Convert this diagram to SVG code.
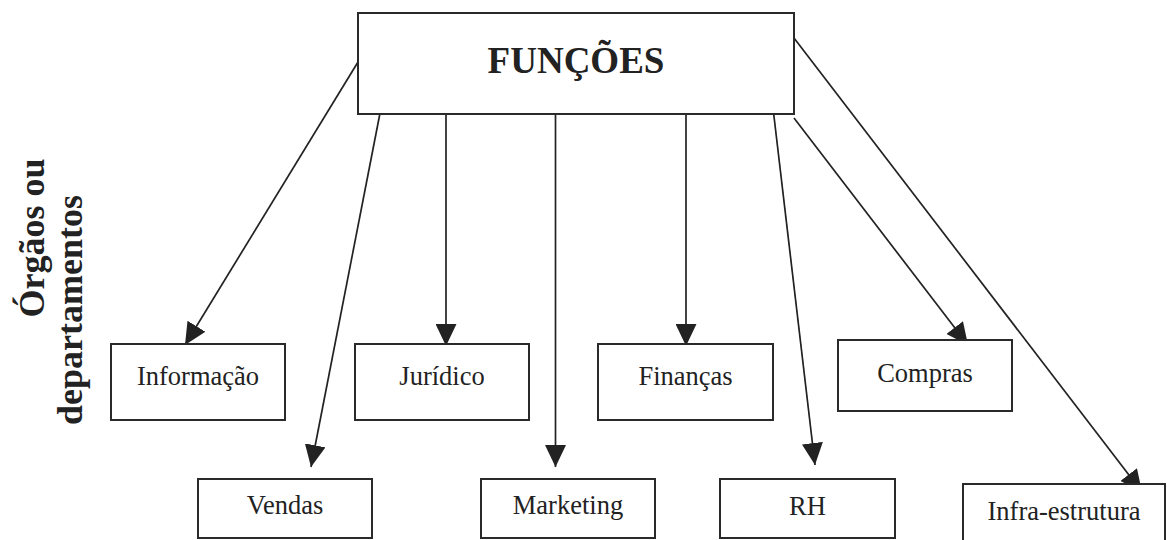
<svg xmlns="http://www.w3.org/2000/svg" width="1167" height="540" viewBox="0 0 1167 540">
  <style>
    .box { fill: #ffffff; stroke: #2a2a2a; stroke-width: 2; }
    .lbl { font-family: "Liberation Serif", "Times New Roman", serif; font-size: 26.5px; fill: #222222; text-anchor: middle; }
    .title { font-family: "Liberation Serif", "Times New Roman", serif; font-size: 37px; font-weight: bold; fill: #222222; text-anchor: middle; }
    .side { font-family: "Liberation Serif", "Times New Roman", serif; font-size: 36px; font-weight: bold; fill: #222222; text-anchor: middle; }
    .conn { stroke: #222222; stroke-width: 1.7; fill: none; marker-end: url(#arrow); }
  </style>
  <defs>
    <marker id="arrow" markerUnits="userSpaceOnUse" markerWidth="22" markerHeight="21" refX="22" refY="10.5" orient="auto">
      <path d="M0,0 L22,10.5 L0,21 Z" fill="#222222"/>
    </marker>
  </defs>
  <rect width="1167" height="540" fill="#ffffff"/>

  <!-- side caption -->
  <g id="caption">
    <text class="side" transform="translate(44,238) rotate(-90)">Órgãos ou</text>
    <text class="side" transform="translate(82,310) rotate(-90)">departamentos</text>
  </g>

  <!-- connectors -->
  <g id="connectors">
    <line class="conn" x1="358" y1="62" x2="185" y2="345"/>
    <line class="conn" x1="381" y1="108" x2="311" y2="467"/>
    <line class="conn" x1="446" y1="108" x2="446" y2="346"/>
    <line class="conn" x1="555.5" y1="108" x2="555.5" y2="467"/>
    <line class="conn" x1="686" y1="108" x2="686" y2="346"/>
    <line class="conn" x1="773" y1="108" x2="815" y2="465"/>
    <line class="conn" x1="794" y1="118" x2="968" y2="345"/>
    <line class="conn" x1="794" y1="38" x2="1142" y2="492"/>
  </g>

  <g id="funcoes">
    <rect class="box" x="358" y="13" width="436" height="101"/>
    <text class="title" x="576" y="73">FUNÇÕES</text>
  </g>

  <g id="informacao">
    <rect class="box" x="111" y="344" width="174" height="76"/>
    <text class="lbl" x="198" y="385">Informação</text>
  </g>
  <g id="juridico">
    <rect class="box" x="355" y="344" width="174" height="76"/>
    <text class="lbl" x="442" y="385">Jurídico</text>
  </g>
  <g id="financas">
    <rect class="box" x="598" y="344" width="175" height="76"/>
    <text class="lbl" x="685.5" y="385">Finanças</text>
  </g>
  <g id="compras">
    <rect class="box" x="838" y="340" width="174" height="71"/>
    <text class="lbl" x="925" y="382">Compras</text>
  </g>
  <g id="vendas">
    <rect class="box" x="198" y="479" width="174" height="59"/>
    <text class="lbl" x="285" y="514">Vendas</text>
  </g>
  <g id="marketing">
    <rect class="box" x="481" y="479" width="174" height="59"/>
    <text class="lbl" x="568" y="514">Marketing</text>
  </g>
  <g id="rh">
    <rect class="box" x="720" y="479" width="175" height="59"/>
    <text class="lbl" x="807.5" y="515">RH</text>
  </g>
  <g id="infra">
    <rect class="box" x="963" y="484" width="202" height="70"/>
    <text class="lbl" x="1064" y="520">Infra-estrutura</text>
  </g>
</svg>
